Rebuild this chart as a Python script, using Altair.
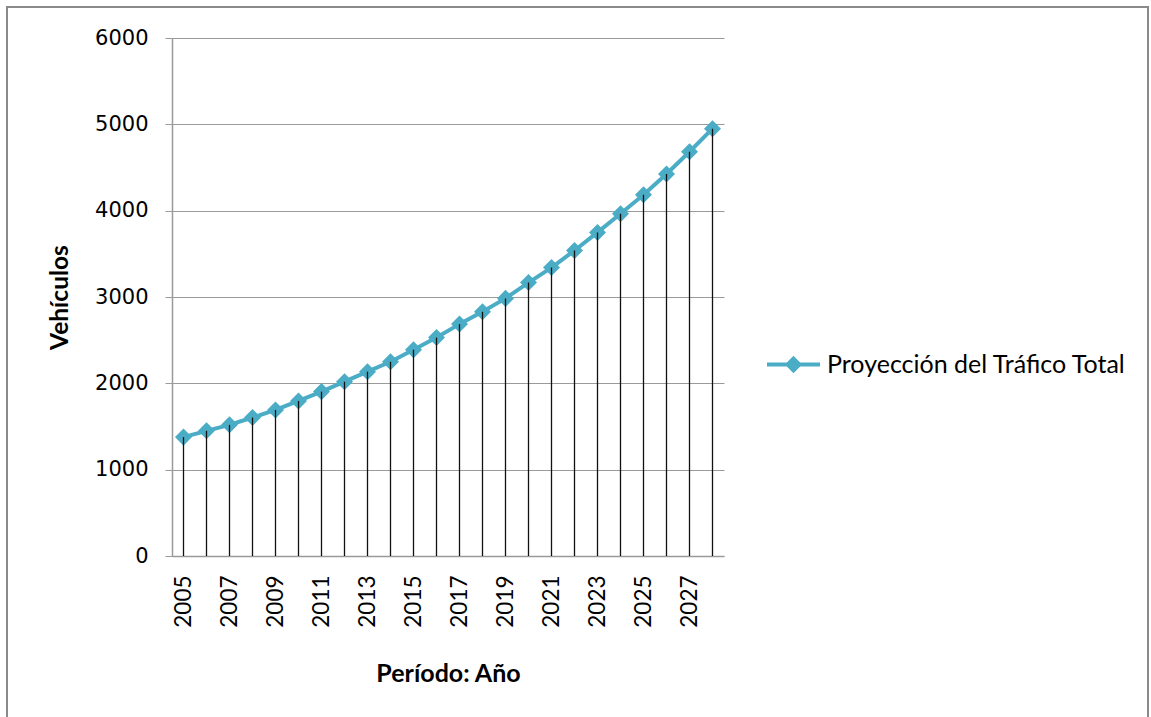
import altair as alt
import pandas as pd

years = list(range(2005, 2029))
values = [1377, 1450, 1519, 1604, 1692, 1796, 1904, 2019, 2135, 2250, 2390, 2530,
          2686, 2829, 2984, 3167, 3341, 3539, 3748, 3965, 4184, 4425, 4682, 4950]
series_name = "Proyección del Tráfico Total"
label_years = list(range(2005, 2029, 2))
y_ticks = [0, 1000, 2000, 3000, 4000, 5000, 6000]

df = pd.DataFrame({"year": years, "value": values, "serie": [series_name] * len(years)})

COLOR = "#4BACC6"
GRID = "#9a9a9a"

x_enc = alt.X(
    "year:Q",
    scale=alt.Scale(domain=[2004.5, 2028.5], nice=False, zero=False),
    axis=alt.Axis(
        values=label_years, format="d", labelAngle=-90, ticks=False, tickSize=0,
        grid=False, domainColor=GRID, domainWidth=1.5, labelFont="Lato", labelFontSize=22.5,
        labelColor="#000", labelPadding=19, title="Período: Año", titleFont="Lato",
        titleFontSize=25, titleFontWeight="bold", titleColor="#000",
        titleX=276, titleY=117, titleBaseline="middle", titleAlign="center",
    ),
)
y_enc = alt.Y(
    "value:Q",
    scale=alt.Scale(domain=[0, 6000], nice=False),
    axis=alt.Axis(
        values=y_ticks, format="d", tickSize=7, tickColor=GRID, domainColor=GRID,
        domainWidth=1.5, gridColor=GRID, gridWidth=1.2, labelFont="DejaVu Sans",
        labelFontSize=21, labelColor="#000", labelPadding=17, title="Vehículos",
        titleFont="Lato", titleFontSize=24.5, titleFontWeight="bold", titleColor="#000",
        titleX=-112, titleY=259, titleBaseline="middle", titleAlign="center",
    ),
)

base = alt.Chart(df)

legend_path = "M-1,0L-0.22,0M0.22,0L1,0M0,-0.22L0.22,0L0,0.22L-0.22,0Z"

line = base.mark_line(strokeWidth=4, strokeJoin="round").encode(
    x=x_enc, y=y_enc,
    color=alt.Color(
        "serie:N", scale=alt.Scale(range=[COLOR]),
        legend=alt.Legend(
            title=None, orient="none", legendX=593, legendY=298, padding=0,
            symbolType=legend_path, symbolSize=2809, symbolStrokeWidth=4,
            symbolFillColor=COLOR, symbolStrokeColor=COLOR, symbolOpacity=1,
            labelFont="Lato", labelFontSize=25, labelColor="#000", labelOffset=5,
            labelLimit=600,
        ),
    ),
)

points = base.mark_point(shape="diamond", filled=True, size=290, opacity=1, color=COLOR).encode(
    x="year:Q", y="value:Q"
)

rules = base.mark_rule(color="#111", strokeWidth=1.3).encode(
    x="year:Q", y="value:Q", y2=alt.datum(0)
)

border = alt.Chart(pd.DataFrame({"a": [0]})).mark_rect(
    fill=None, stroke="#8a8a8a", strokeWidth=2
).encode(x=alt.value(-165), x2=alt.value(976), y=alt.value(-31), y2=alt.value(720))

chart = alt.layer(line, points, rules, border).properties(
    width=552, height=518,
    autosize=alt.AutoSizeParams(type="none"),
    padding={"left": 172, "top": 38, "right": 427, "bottom": 161},
    background="white",
).configure_view(stroke=None)

chart.save("out.html", embed_options={"renderer": "svg", "actions": False})
